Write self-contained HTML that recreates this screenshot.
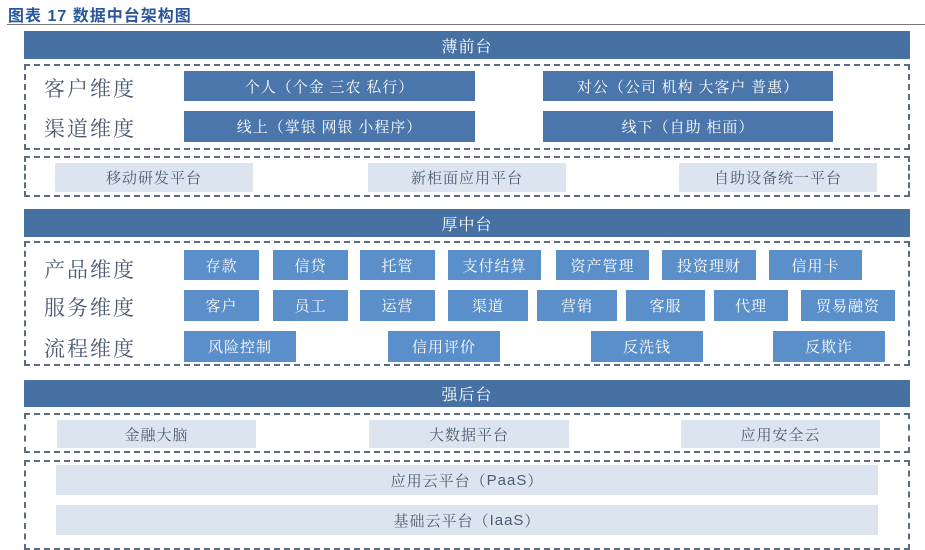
<!DOCTYPE html>
<html><head><meta charset="utf-8"><style>
body{margin:0;width:925px;height:529px;background:#fff;position:relative;overflow:hidden;font-family:"Liberation Serif","Noto Serif CJK SC",serif}
div{position:absolute;box-sizing:border-box}
.b{display:flex;align-items:center;justify-content:center;color:#fff;font-size:15px;letter-spacing:1px}
.h{background:#4770a3;font-size:16px}
.d{background:#4a76ac}
.m{background:#5b8fca}
.l{background:#dbe4ef;color:#4c5c72}
.x{border:2px dashed #5a6b82}
.t{color:#4b5a70;font-size:21px;letter-spacing:2px}
.s{font-family:"Liberation Sans",sans-serif}
</style></head><body>
<div style="left:8px;top:2px;font-family:'Liberation Sans','Noto Sans CJK SC',sans-serif;font-weight:bold;color:#2a56a0;font-size:16px;letter-spacing:1px">图表 17 数据中台架构图</div>
<div style="left:7px;top:24px;width:918px;height:1px;background:#777"></div>

<div class="b h" style="left:24px;top:31px;width:886px;height:28px">薄前台</div>
<div class="x" style="left:24px;top:64px;width:886px;height:86px"></div>
<div class="t" style="left:44px;top:73px">客户维度</div>
<div class="t" style="left:44px;top:113px">渠道维度</div>
<div class="b d" style="left:184px;top:71px;width:291px;height:30px">个人（个金 三农 私行）</div>
<div class="b d" style="left:543px;top:71px;width:290px;height:30px">对公（公司 机构 大客户 普惠）</div>
<div class="b d" style="left:184px;top:111px;width:291px;height:31px">线上（掌银 网银 小程序）</div>
<div class="b d" style="left:543px;top:111px;width:290px;height:31px">线下（自助 柜面）</div>

<div class="x" style="left:24px;top:156px;width:886px;height:41px"></div>
<div class="b l" style="left:55px;top:163px;width:198px;height:29px">移动研发平台</div>
<div class="b l" style="left:368px;top:163px;width:198px;height:29px">新柜面应用平台</div>
<div class="b l" style="left:679px;top:163px;width:198px;height:29px">自助设备统一平台</div>

<div class="b h" style="left:24px;top:209px;width:886px;height:28px">厚中台</div>
<div class="x" style="left:24px;top:241px;width:886px;height:125px"></div>
<div class="t" style="left:44px;top:254px">产品维度</div>
<div class="t" style="left:44px;top:292px">服务维度</div>
<div class="t" style="left:44px;top:333px">流程维度</div>
<div class="b m" style="left:184px;top:250px;width:75px;height:30px">存款</div>
<div class="b m" style="left:273px;top:250px;width:75px;height:30px">信贷</div>
<div class="b m" style="left:360px;top:250px;width:75px;height:30px">托管</div>
<div class="b m" style="left:448px;top:250px;width:93px;height:30px">支付结算</div>
<div class="b m" style="left:556px;top:250px;width:93px;height:30px">资产管理</div>
<div class="b m" style="left:662px;top:250px;width:94px;height:30px">投资理财</div>
<div class="b m" style="left:769px;top:250px;width:93px;height:30px">信用卡</div>
<div class="b m" style="left:184px;top:290px;width:75px;height:31px">客户</div>
<div class="b m" style="left:273px;top:290px;width:75px;height:31px">员工</div>
<div class="b m" style="left:360px;top:290px;width:75px;height:31px">运营</div>
<div class="b m" style="left:448px;top:290px;width:80px;height:31px">渠道</div>
<div class="b m" style="left:537px;top:290px;width:80px;height:31px">营销</div>
<div class="b m" style="left:626px;top:290px;width:79px;height:31px">客服</div>
<div class="b m" style="left:714px;top:290px;width:74px;height:31px">代理</div>
<div class="b m" style="left:801px;top:290px;width:94px;height:31px">贸易融资</div>
<div class="b m" style="left:184px;top:331px;width:112px;height:31px">风险控制</div>
<div class="b m" style="left:388px;top:331px;width:112px;height:31px">信用评价</div>
<div class="b m" style="left:591px;top:331px;width:112px;height:31px">反洗钱</div>
<div class="b m" style="left:773px;top:331px;width:112px;height:31px">反欺诈</div>

<div class="b h" style="left:24px;top:380px;width:886px;height:27px">强后台</div>
<div class="x" style="left:24px;top:413px;width:886px;height:40px"></div>
<div class="b l" style="left:57px;top:420px;width:199px;height:28px">金融大脑</div>
<div class="b l" style="left:369px;top:420px;width:200px;height:28px">大数据平台</div>
<div class="b l" style="left:681px;top:420px;width:199px;height:28px">应用安全云</div>

<div class="x" style="left:24px;top:460px;width:886px;height:90px"></div>
<div class="b l" style="left:56px;top:465px;width:822px;height:30px">应用云平台（<span class="s">PaaS</span>）</div>
<div class="b l" style="left:56px;top:505px;width:822px;height:30px">基础云平台（<span class="s">IaaS</span>）</div>
</body></html>
